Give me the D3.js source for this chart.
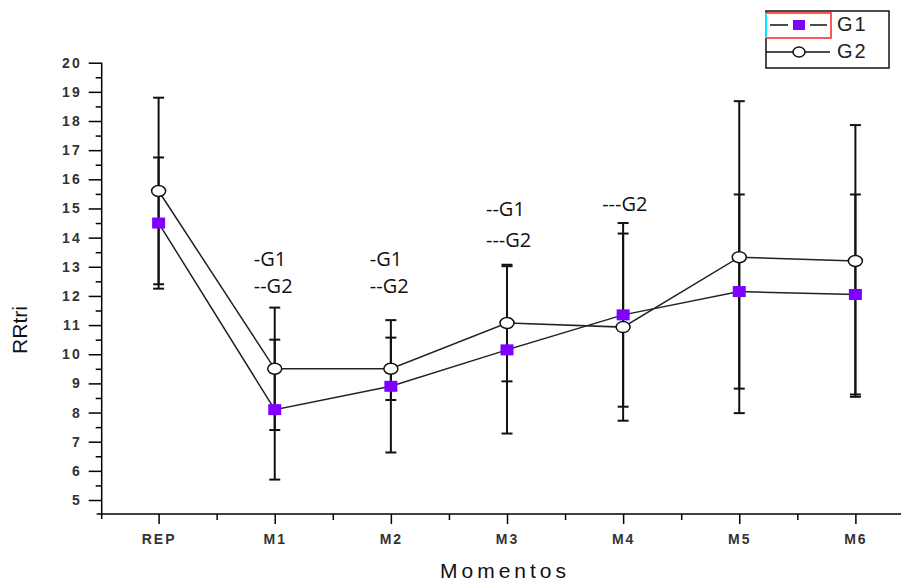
<!DOCTYPE html>
<html>
<head>
<meta charset="utf-8">
<script src="https://cdn.jsdelivr.net/npm/d3@7"></script>
<style>
    body { margin: 0; background: #fff; }
    svg { display: block; }
</style>
</head>
<body>
<div class="chart"></div>
<script>
var categories = ["REP", "M1", "M2", "M3", "M4", "M5", "M6"];
var g1Mean = [14.5, 8.1, 8.9, 10.15, 11.35, 12.15, 12.05];
var g1Err = [2.25, 2.4, 2.27, 2.87, 3.15, 3.33, 3.43];
var g2Mean = [15.6, 9.5, 9.5, 11.07, 10.93, 13.33, 13.2];
var g2Err = [3.2, 2.1, 1.07, 2.0, 3.21, 5.35, 4.66];
var yTicks = [5, 6, 7, 8, 9, 10, 11, 12, 13, 14, 15, 16, 17, 18, 19, 20];
var noteCats = ["M1", "M1", "M2", "M2", "M3", "M3", "M4"];
var noteTexts = ["-G1", "--G2", "-G1", "--G2", "--G1", "---G2", "---G2"];
var noteLevels = [13.03, 12.1, 13.03, 12.1, 14.74, 13.69, 14.92];

function drawChart() {
    var width = 901;
    var height = 583;
    var left = 101.7;
    var bottom = 514;
    var top = 62.7;
    var step = 115.8;

    var svg = d3.select(".chart").append("svg")
        .attr("width", width)
        .attr("height", height);

    var x = d3.scaleLinear()
        .domain([-0.49, categories.length - 0.5])
        .range([left, left + (categories.length + 0.01) * step]);

    var y = d3.scaleLinear()
        .domain([4.52, 20])
        .range([bottom, top]);

    /*****************  Axes **********************/

    var minorY = d3.range(4.5, 20, 1).filter(function (d) { return y(d) <= bottom; });
    svg.append("g")
        .attr("transform", "translate(" + left + ",0)")
        .call(d3.axisLeft(y).tickValues(minorY).tickSize(6).tickFormat(""))
        .call(function (g) { g.select(".domain").remove(); });

    var yAxis = svg.append("g")
        .attr("transform", "translate(" + left + ",0)")
        .call(d3.axisLeft(y).tickValues(yTicks).tickSize(13).tickSizeOuter(0).tickPadding(7));
    yAxis.select(".domain").remove();
    yAxis.selectAll("text")
        .style("font-family", "Liberation Sans, Arial, sans-serif")
        .style("font-size", "14px")
        .style("font-weight", "bold")
        .style("letter-spacing", "2px")
        .style("fill", "#333");

    svg.append("line")
        .attr("x1", left).attr("x2", left)
        .attr("y1", top).attr("y2", bottom + 5)
        .style("stroke", "#000")
        .style("stroke-width", 1.5);

    var minorX = d3.range(-0.5, categories.length, 1).filter(function (d) { return x(d) > left + 2 && x(d) < width; });
    svg.append("g")
        .attr("transform", "translate(0," + bottom + ")")
        .call(d3.axisBottom(x).tickValues(minorX).tickSize(6).tickFormat(""))
        .call(function (g) { g.select(".domain").remove(); });

    var xAxis = svg.append("g")
        .attr("transform", "translate(0," + bottom + ")")
        .call(d3.axisBottom(x).tickValues(d3.range(categories.length)).tickSize(10).tickSizeOuter(0).tickPadding(10)
            .tickFormat(function (d) { return categories[d]; }));
    xAxis.select(".domain").remove();
    xAxis.selectAll("text")
        .style("font-family", "Liberation Sans, Arial, sans-serif")
        .style("font-size", "14px")
        .style("font-weight", "bold")
        .style("letter-spacing", "2px")
        .style("fill", "#333");

    svg.append("line")
        .attr("x1", left - 5).attr("x2", width)
        .attr("y1", bottom).attr("y2", bottom)
        .style("stroke", "#000")
        .style("stroke-width", 1.5);

    svg.selectAll(".tick line").style("stroke", "#000").style("stroke-width", 1.5);

    /*****************  Axis titles **********************/

    svg.append("text")
        .attr("transform", "translate(27,330) rotate(-90)")
        .attr("text-anchor", "middle")
        .style("font-family", "Liberation Sans, Arial, sans-serif")
        .style("font-size", "21px")
        .style("fill", "#111")
        .text("RRtri");

    svg.append("text")
        .attr("x", 505)
        .attr("y", 578)
        .attr("text-anchor", "middle")
        .style("font-family", "Liberation Sans, Arial, sans-serif")
        .style("font-size", "21px")
        .style("letter-spacing", "4px")
        .style("fill", "#111")
        .text("Momentos");

    /*****************  Error bars **********************/

    var series = [
        { mean: g2Mean, err: g2Err },
        { mean: g1Mean, err: g1Err }
    ];

    series.forEach(function (s) {
        var g = svg.append("g");
        s.mean.forEach(function (m, i) {
            var cx = x(i);
            g.append("line")
                .attr("x1", cx).attr("x2", cx)
                .attr("y1", y(m + s.err[i])).attr("y2", y(m - s.err[i]))
                .style("stroke", "#111").style("stroke-width", 2);
            [m + s.err[i], m - s.err[i]].forEach(function (v) {
                g.append("line")
                    .attr("x1", cx - 5.5).attr("x2", cx + 5.5)
                    .attr("y1", y(v)).attr("y2", y(v))
                    .style("stroke", "#111").style("stroke-width", 2);
            });
        });
    });

    /*****************  Lines **********************/

    var line = d3.line()
        .x(function (d, i) { return x(i); })
        .y(function (d) { return y(d); });

    svg.append("path")
        .datum(g2Mean)
        .attr("d", line)
        .style("fill", "none")
        .style("stroke", "#222")
        .style("stroke-width", 1.5);

    svg.append("path")
        .datum(g1Mean)
        .attr("d", line)
        .style("fill", "none")
        .style("stroke", "#222")
        .style("stroke-width", 1.5);

    /*****************  Markers **********************/

    svg.selectAll(".g2pt")
        .data(g2Mean)
        .enter()
        .append("ellipse")
        .attr("class", "g2pt")
        .attr("cx", function (d, i) { return x(i); })
        .attr("cy", function (d) { return y(d); })
        .attr("rx", 7)
        .attr("ry", 5.5)
        .style("fill", "#fff")
        .style("stroke", "#111")
        .style("stroke-width", 1.5);

    svg.selectAll(".g1pt")
        .data(g1Mean)
        .enter()
        .append("rect")
        .attr("class", "g1pt")
        .attr("x", function (d, i) { return x(i) - 6.5; })
        .attr("y", function (d) { return y(d) - 5.5; })
        .attr("width", 13)
        .attr("height", 11)
        .style("fill", "#7f00ff");

    /*****************  Annotations **********************/

    svg.selectAll(".note")
        .data(noteTexts)
        .enter()
        .append("text")
        .attr("class", "note")
        .attr("x", function (d, i) { return x(categories.indexOf(noteCats[i])) - 21; })
        .attr("y", function (d, i) { return y(noteLevels[i]); })
        .style("font-family", "Open Sans, Noto Sans, sans-serif")
        .style("font-size", "20px")
        .style("fill", "#111")
        .text(function (d) { return d; });

    /*****************  Legend **********************/

    var legend = svg.append("g");
    legend.append("rect")
        .attr("x", 766).attr("y", 11)
        .attr("width", 123).attr("height", 57)
        .style("fill", "#fff")
        .style("stroke", "#111")
        .style("stroke-width", 1.5);
    legend.append("rect")
        .attr("x", 766).attr("y", 13)
        .attr("width", 65).attr("height", 25)
        .style("fill", "none")
        .style("stroke", "#ff2020")
        .style("stroke-width", 1.5);
    legend.append("line")
        .attr("x1", 766).attr("x2", 766)
        .attr("y1", 13).attr("y2", 38)
        .style("stroke", "#00e5ff")
        .style("stroke-width", 2);

    [[770, 788], [810, 827]].forEach(function (seg) {
        legend.append("line")
            .attr("x1", seg[0]).attr("x2", seg[1])
            .attr("y1", 25).attr("y2", 25)
            .style("stroke", "#111").style("stroke-width", 1.5);
    });
    legend.append("rect")
        .attr("x", 793).attr("y", 20)
        .attr("width", 12).attr("height", 10)
        .style("fill", "#7f00ff");

    legend.append("line")
        .attr("x1", 766).attr("x2", 830)
        .attr("y1", 52).attr("y2", 52)
        .style("stroke", "#111").style("stroke-width", 1.5);
    legend.append("ellipse")
        .attr("cx", 799).attr("cy", 52)
        .attr("rx", 6).attr("ry", 5)
        .style("fill", "#fff")
        .style("stroke", "#111").style("stroke-width", 1.5);

    legend.selectAll(".legtext")
        .data(["G1", "G2"])
        .enter()
        .append("text")
        .attr("class", "legtext")
        .attr("x", 837)
        .attr("y", function (d, i) { return 31 + i * 27; })
        .style("font-family", "Liberation Sans, Arial, sans-serif")
        .style("font-size", "20px")
        .style("letter-spacing", "2px")
        .style("fill", "#222")
        .text(function (d) { return d; });
}

drawChart();
</script>
</body>
</html>
